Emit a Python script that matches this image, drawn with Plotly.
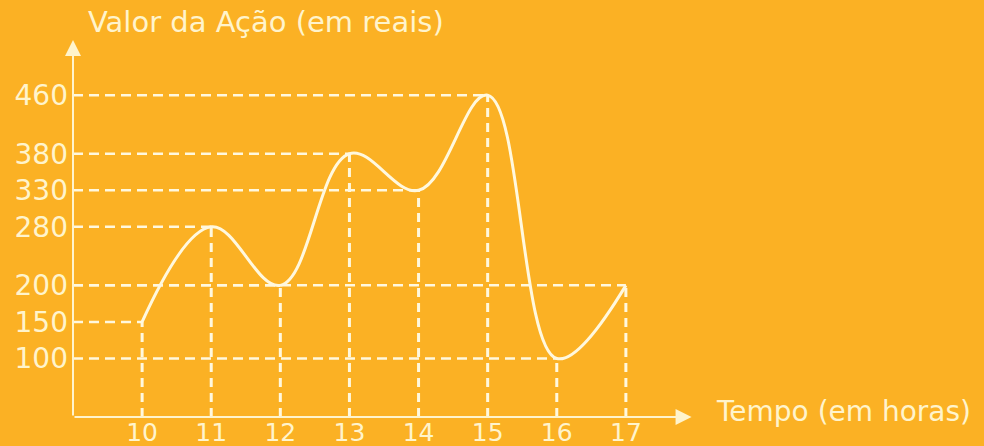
import plotly.graph_objects as go

# Data
hours = [10, 11, 12, 13, 14, 15, 16, 17]
values = [150, 280, 200, 380, 330, 460, 100, 200]
y_ticks = [100, 150, 200, 280, 330, 380, 460]
x_ticks = hours
y_title = "Valor da Ação (em reais)"
x_title = "Tempo (em horas)"

BG = "#FBB124"
FG = "#FFF4CC"
LINE = "#FFF8DE"

X0, X1 = 9, 18
Y0, Y1 = 20, 535.5

# plot area in pixels
L, R, T, B = 73, 695, 40, 417
W, H = 984, 446

fig = go.Figure()

# dashed guide lines
for hx, v in zip(hours, values):
    fig.add_trace(go.Scatter(x=[X0, hx], y=[v, v], mode="lines",
                             line=dict(color=LINE, width=2.5, dash="10px,6px"),
                             hoverinfo="skip", showlegend=False))
    fig.add_trace(go.Scatter(x=[hx, hx], y=[Y0, v], mode="lines",
                             line=dict(color=LINE, width=3, dash="9px,6px"),
                             hoverinfo="skip", showlegend=False))

# main curve
fig.add_trace(go.Scatter(x=hours, y=values, mode="lines",
                         line=dict(color=LINE, width=3, shape="spline", smoothing=1.1),
                         showlegend=False))

font_family = "DejaVu Sans"

# axes arrows
fig.add_annotation(x=17.95, y=Y0, ax=X0, ay=Y0, xref="x", yref="y", axref="x", ayref="y",
                   showarrow=True, arrowhead=2, arrowsize=1.6, arrowwidth=2, arrowcolor=FG, text="")
fig.add_annotation(x=X0, y=Y1, ax=X0, ay=Y0, xref="x", yref="y", axref="x", ayref="y",
                   showarrow=True, arrowhead=2, arrowsize=1.6, arrowwidth=2, arrowcolor=FG, text="")

def px_x(p):
    return (p - L) / (R - L)

def px_y(p):
    return (B - p) / (B - T)

fig.add_annotation(x=px_x(86), y=px_y(22), xref="paper", yref="paper", text=y_title,
                   showarrow=False, xanchor="left", yanchor="middle",
                   font=dict(family=font_family, size=29, color=FG))
fig.add_annotation(x=px_x(714), y=px_y(411), xref="paper", yref="paper", text=x_title,
                   showarrow=False, xanchor="left", yanchor="middle",
                   font=dict(family=font_family, size=28, color=FG))

fig.update_layout(
    width=W, height=H,
    margin=dict(l=L, r=W - R, t=T, b=H - B, autoexpand=False),
    paper_bgcolor=BG, plot_bgcolor=BG,
    xaxis=dict(range=[X0, X1], tickvals=x_ticks, ticktext=[str(t) for t in x_ticks],
               showgrid=False, zeroline=False, showline=False, ticks="", automargin=False,
               ticklabelstandoff=-2,
               tickfont=dict(family=font_family, size=25, color=FG), fixedrange=True),
    yaxis=dict(range=[Y0, Y1], tickvals=y_ticks, ticktext=[str(t) for t in y_ticks],
               showgrid=False, zeroline=False, showline=False, ticks="", automargin=False,
               ticklabelstandoff=4,
               tickfont=dict(family=font_family, size=28, color=FG), fixedrange=True),
)

fig.write_html("out.html", config={"displayModeBar": False})
